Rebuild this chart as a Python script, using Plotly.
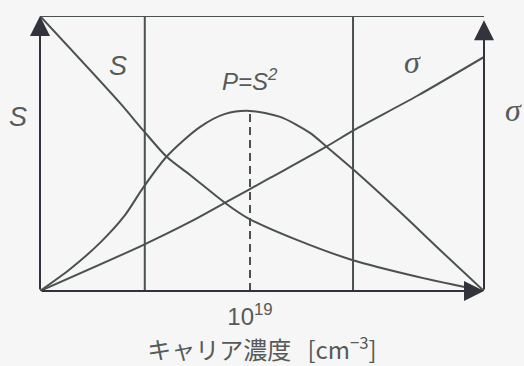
import plotly.graph_objects as go

# Carrier concentration (arbitrary linear units, 0..10) and curve values (0..10)
s_x = [0.0, 1.80, 2.32, 2.86, 3.38, 4.17, 4.68, 5.80, 7.03, 8.50, 10.0]
s_y = [10.0, 6.84, 5.85, 4.87, 4.22, 3.20, 2.65, 1.85, 1.13, 0.52, 0.0]

sigma_x = [0.0, 2.32, 3.38, 4.17, 5.18, 6.46, 7.07, 8.50, 10.0]
sigma_y = [0.0, 1.67, 2.51, 3.21, 4.11, 5.26, 5.85, 7.10, 8.51]

p_x = [0.0, 0.68, 1.35, 1.91, 2.32, 2.86, 3.60, 4.17, 4.73, 5.41, 6.08, 6.46, 7.07, 8.11, 9.01, 10.0]
p_y = [0.0, 0.80, 1.75, 2.75, 3.75, 4.90, 5.96, 6.44, 6.55, 6.33, 5.75, 5.24, 4.40, 2.87, 1.49, 0.0]

# Region boundaries and the optimum concentration (peak of P)
boundary_x = [2.36, 7.05]
peak_x = 4.73
peak_p = 6.55
tick_labels = ["10<sup>19</sup>"]

line_col = "#4b5151"
head_col = "#33333d"
text_col = "#555a5a"
bg = "#f5f6f5"

# plot-area geometry in pixels
W, H = 524, 366
L, R, T, B = 40, 40, 16, 75

fig = go.Figure()
for xs, ys in [(s_x, s_y), (sigma_x, sigma_y), (p_x, p_y)]:
    fig.add_trace(go.Scatter(x=xs, y=ys, mode="lines",
                             line=dict(color=line_col, width=2, shape="spline", smoothing=0.8),
                             hoverinfo="skip", showlegend=False))

shapes = [
    dict(type="line", xref="x", yref="y", x0=0, x1=10, y0=10, y1=10,
         line=dict(color=line_col, width=2)),
    dict(type="line", xref="x", yref="y", x0=peak_x, x1=peak_x, y0=0, y1=peak_p,
         line=dict(color=line_col, width=2, dash="8px,5px")),
]
for bx in boundary_x:
    shapes.append(dict(type="line", xref="x", yref="y", x0=bx, x1=bx, y0=0, y1=10,
                       line=dict(color=line_col, width=2)))

arrow = dict(showarrow=True, arrowhead=2, arrowsize=2.0, arrowwidth=2,
             arrowcolor=head_col, axref="x", ayref="y", xref="x", yref="y", text="")
annotations = [
    dict(arrow, x=0, y=10, ax=0, ay=0),
    dict(arrow, x=10, y=9.85, ax=10, ay=0),
    dict(arrow, x=10, y=0, ax=0, ay=0),
]

sans = "Liberation Sans, Arial, sans-serif"
serif = "Liberation Serif, Times New Roman, serif"


def label(text, px, py, size, family=sans):
    return dict(text=f"<i>{text}</i>",
                x=(px - L) / (W - L - R), y=(H - B - py) / (H - T - B),
                xref="paper", yref="paper", showarrow=False,
                xanchor="center", yanchor="middle",
                font=dict(family=family, size=size, color=text_col))


annotations += [
    label("S", 18, 117, 27),
    label("S", 118, 66, 27),
    label("P=S<sup>2</sup>", 250, 80, 24),
    label("σ", 412, 62, 32, serif),
    label("σ", 513, 110, 32, serif),
]

fig.update_layout(
    width=W, height=H,
    margin=dict(l=L, r=R, t=T, b=B),
    paper_bgcolor=bg, plot_bgcolor=bg,
    shapes=shapes, annotations=annotations,
    xaxis=dict(range=[0, 10], showgrid=False, zeroline=False, showline=False,
               tickmode="array", tickvals=[peak_x], ticktext=tick_labels,
               ticks="", ticklabelstandoff=9,
               tickfont=dict(family=sans, size=24, color=text_col),
               title=dict(text="キャリア濃度\u00a0\u00a0\u00a0[cm<sup>−3</sup>]", standoff=0,
                          font=dict(family="Noto Sans CJK JP, " + sans, size=24, color=text_col))),
    yaxis=dict(range=[0, 10], showgrid=False, zeroline=False, showline=False,
               showticklabels=False, ticks=""),
)

fig.write_html("out.html")
